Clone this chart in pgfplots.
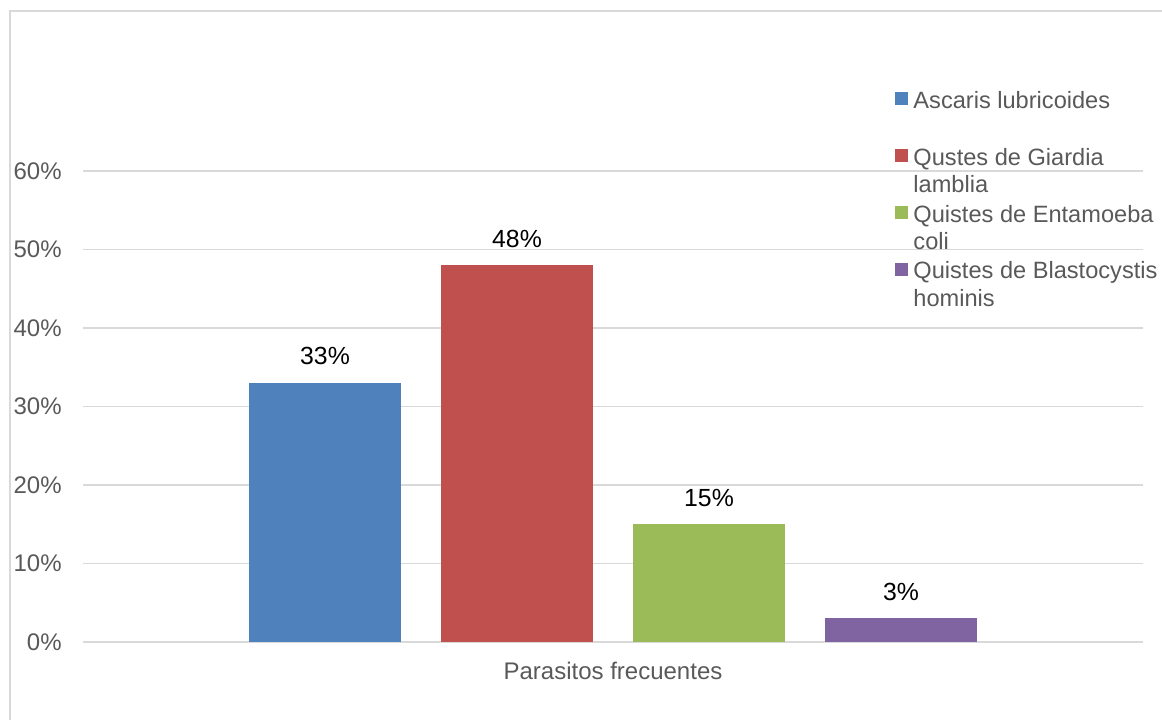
\documentclass[border=0pt]{standalone}
\usepackage{fontspec}
\setmainfont{Liberation Sans}
\usepackage{pgfplots}
\pgfplotsset{compat=1.18}

\definecolor{serA}{HTML}{4F81BD}
\definecolor{serB}{HTML}{C0504D}
\definecolor{serC}{HTML}{9BBB59}
\definecolor{serD}{HTML}{8064A2}
\definecolor{gridgray}{HTML}{D9D9D9}
\definecolor{textgray}{HTML}{595959}

\begin{document}
\begin{tikzpicture}
\useasboundingbox (0pt,0pt) rectangle (581pt,359.5pt);
% chart frame (left and top edges)
\draw[color=gridgray, line width=1pt] (5pt,-3pt) -- (5pt,353.75pt) -- (585pt,353.75pt);
\begin{axis}[
  at={(41.5pt,38.5pt)}, anchor=south west,
  scale only axis,
  width=530pt, height=235.5pt,
  xmin=-1, xmax=1,
  ymin=0, ymax=60,
  enlargelimits=false,
  ybar=20pt, bar width=76pt,
  axis line style={draw=none},
  major tick length=0pt,
  ymajorgrids,
  grid style={color=gridgray, line width=0.8pt},
  ytick={0,10,...,60},
  yticklabel={\pgfmathprintnumber{\tick}\%},
  /pgf/number format/assume math mode=true,
  xtick={0},
  xticklabels={Parasitos frecuentes},
  every tick label/.append style={text=textgray, font=\fontsize{12}{14}\selectfont},
  yticklabel style={anchor=east, inner sep=0pt, xshift=-10.5pt},
  xticklabel style={anchor=base, inner sep=0pt, yshift=-18.5pt},
  nodes near coords={\pgfmathprintnumber{\pgfplotspointmeta}\%},
  every node near coord/.append style={anchor=base, inner sep=0pt, yshift=9pt,
    text=black, font=\fontsize{12.4}{14}\selectfont},
  legend image code/.code={\fill[#1] (0pt,-2.5pt) rectangle (6.5pt,4pt);},
  legend cell align=left,
  legend style={
    at={(rel axis cs:0.766,1.1735)}, anchor=north west,
    draw=none, fill=none, inner sep=0pt, outer sep=0pt,
    row sep=17.4pt, column sep=2.75pt,
    text=textgray, font=\fontsize{11.8}{13.6}\selectfont,
    nodes={inner sep=0pt, outer sep=0pt},
  },
]
\addplot[fill=serA, draw=none] coordinates {(0,33)};
\addlegendentry{\begin{tabular}[t]{@{}l@{}}Ascaris lubricoides\end{tabular}}
\addplot[fill=serB, draw=none] coordinates {(0,48)};
\addlegendentry{\begin{tabular}[t]{@{}l@{}}Qustes de Giardia\\lamblia\end{tabular}}
\addplot[fill=serC, draw=none] coordinates {(0,15)};
\addlegendentry{\begin{tabular}[t]{@{}l@{}}Quistes de Entamoeba\\coli\end{tabular}}
\addplot[fill=serD, draw=none] coordinates {(0,3)};
\addlegendentry{\begin{tabular}[t]{@{}l@{}}Quistes de Blastocystis\\hominis\end{tabular}}
\end{axis}
\end{tikzpicture}
\end{document}
